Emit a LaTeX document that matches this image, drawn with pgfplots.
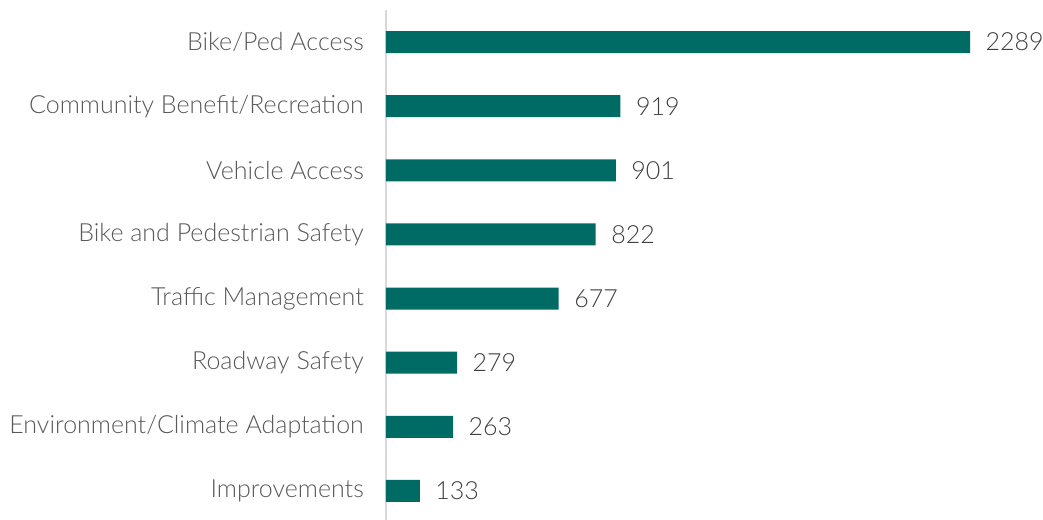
\documentclass[border=0pt]{standalone}
\usepackage{pgfplots}
\pgfplotsset{compat=1.18}
\usepackage{fontspec}
\setmainfont{Lato}[UprightFont={* Light}]
\definecolor{barcol}{RGB}{0,107,101}
\definecolor{labcol}{RGB}{89,89,89}
\definecolor{numcol}{RGB}{64,64,64}
\definecolor{axcol}{RGB}{217,217,217}
\begin{document}
\begin{tikzpicture}
\useasboundingbox (-386pt,0pt) rectangle (657pt,519pt);
\begin{axis}[
  scale only axis,
  width=657pt, height=513pt,
  anchor=south west, at={(0pt,-4pt)},
  xbar, bar width=22pt,
  xmin=0, xmax=2575,
  ymin=-0.5, ymax=7.5, y dir=reverse,
  ytick={0,...,7},
  yticklabels={Bike/Ped Access,Community Benefit/Recreation,Vehicle Access,Bike and Pedestrian Safety,Traffic Management,Roadway Safety,Environment/Climate Adaptation,Improvements},
  yticklabel style={font=\fontsize{25}{29}\selectfont, text=labcol, inner sep=0pt, xshift=-22pt},
  major tick length=0pt,
  xtick=\empty,
  axis x line=none,
  axis y line*=left,
  y axis line style={draw=axcol, line width=1.5pt},
  nodes near coords,
  nodes near coords style={font=\fontsize{25}{29}\selectfont, text=numcol, anchor=west, xshift=12pt,
    /pgf/number format/assume math mode=true, /pgf/number format/1000 sep={}},
  point meta=x,
  clip=false,
]
\addplot[fill=barcol, draw=none] coordinates {(2289,0) (919,1) (901,2) (822,3) (677,4) (279,5) (263,6) (133,7)};
\end{axis}
\end{tikzpicture}
\end{document}
